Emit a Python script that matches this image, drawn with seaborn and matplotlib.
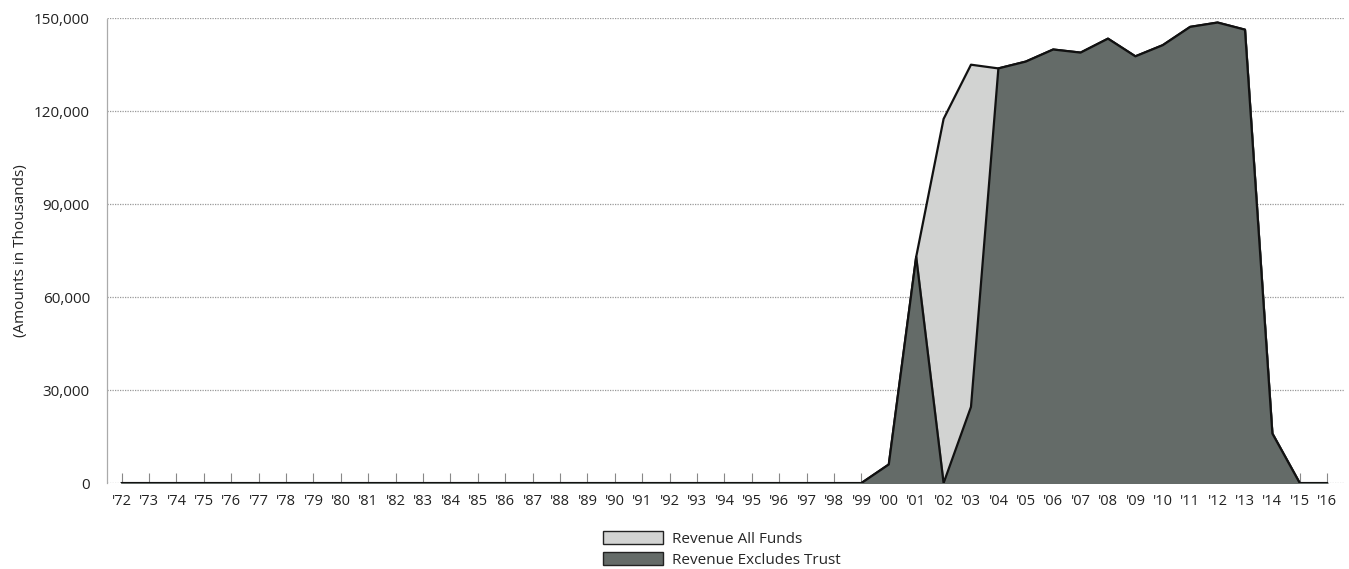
import numpy as np
import pandas as pd
import matplotlib
matplotlib.use("Agg")
import matplotlib.pyplot as plt
import seaborn as sns
from matplotlib.patches import Patch
from matplotlib.ticker import FuncFormatter

# fiscal years 1972..2016
years = list(range(1972, 2017))
year_labels = ["'" + str(y)[2:] for y in years]

# amounts in thousands (zero before '99)
all_funds_tail = [0, 6000, 73000, 117500, 135000, 133800, 136000, 139900, 138900,
                  143400, 137700, 141300, 147200, 148600, 146300, 16000, 0, 0]
excl_trust_tail = [0, 6000, 73000, 0, 24600, 133800, 136000, 139900, 138900,
                   143400, 137700, 141300, 147200, 148600, 146300, 16000, 0, 0]

revenue_all_funds = [0] * (len(years) - len(all_funds_tail)) + all_funds_tail
revenue_excl_trust = [0] * (len(years) - len(excl_trust_tail)) + excl_trust_tail

df = pd.DataFrame({"year": years,
                   "all_funds": revenue_all_funds,
                   "excl_trust": revenue_excl_trust})

sns.set_style("white")
plt.rcParams["font.family"] = ["Open Sans", "DejaVu Sans"]

light = "#d2d3d2"
dark = "#646b68"

fig = plt.figure(figsize=(13.49, 5.69), dpi=100)
ax = fig.add_axes([0.079, 0.151, 0.917, 0.817])

ax.fill_between(df["year"], df["all_funds"], color=light, zorder=2)
sns.lineplot(data=df, x="year", y="all_funds", color="#111111", lw=1.6, ax=ax, zorder=3)
ax.fill_between(df["year"], df["excl_trust"], color=dark, zorder=4)
sns.lineplot(data=df, x="year", y="excl_trust", color="#111111", lw=1.6, ax=ax, zorder=5)

ax.set_xlim(1971.45, 2016.6)
ax.set_ylim(0, 150000)
ax.set_yticks(np.arange(0, 150001, 30000))
ax.yaxis.set_major_formatter(FuncFormatter(lambda v, p: f"{int(v):,}"))
ax.set_xticks(years)
ax.set_xticklabels(year_labels)

ax.grid(axis="y", color="#999999", linestyle=(0, (1, 1)), lw=0.9, zorder=0)
ax.grid(axis="x", visible=False)
for side in ["top", "right", "bottom"]:
    ax.spines[side].set_visible(False)
ax.spines["left"].set_color("#aaaaaa")
ax.spines["left"].set_linestyle((0, (1, 1)))
ax.spines["left"].set_linewidth(0.9)

ax.tick_params(axis="x", direction="in", length=7, width=0.8, color="#888888",
               labelsize=10.5, pad=8, bottom=True)
ax.tick_params(axis="y", length=0, labelsize=11, pad=12)
for lab in ax.get_yticklabels() + ax.get_xticklabels():
    lab.set_color("#222222")

ax.set_xlabel("")
ax.set_ylabel("(Amounts in Thousands)", fontsize=11, color="#222222", labelpad=4)

handles = [Patch(facecolor=light, edgecolor="#222222", lw=1.0, label="Revenue All Funds"),
           Patch(facecolor=dark, edgecolor="#222222", lw=1.0, label="Revenue Excludes Trust")]
fig.legend(handles=handles, loc="upper center", bbox_to_anchor=(0.535, 0.078),
           frameon=False, fontsize=11, handlelength=3.9, handleheight=0.95,
           labelspacing=0.35, handletextpad=0.6, borderaxespad=0)

fig.savefig("out.png", dpi=100)
